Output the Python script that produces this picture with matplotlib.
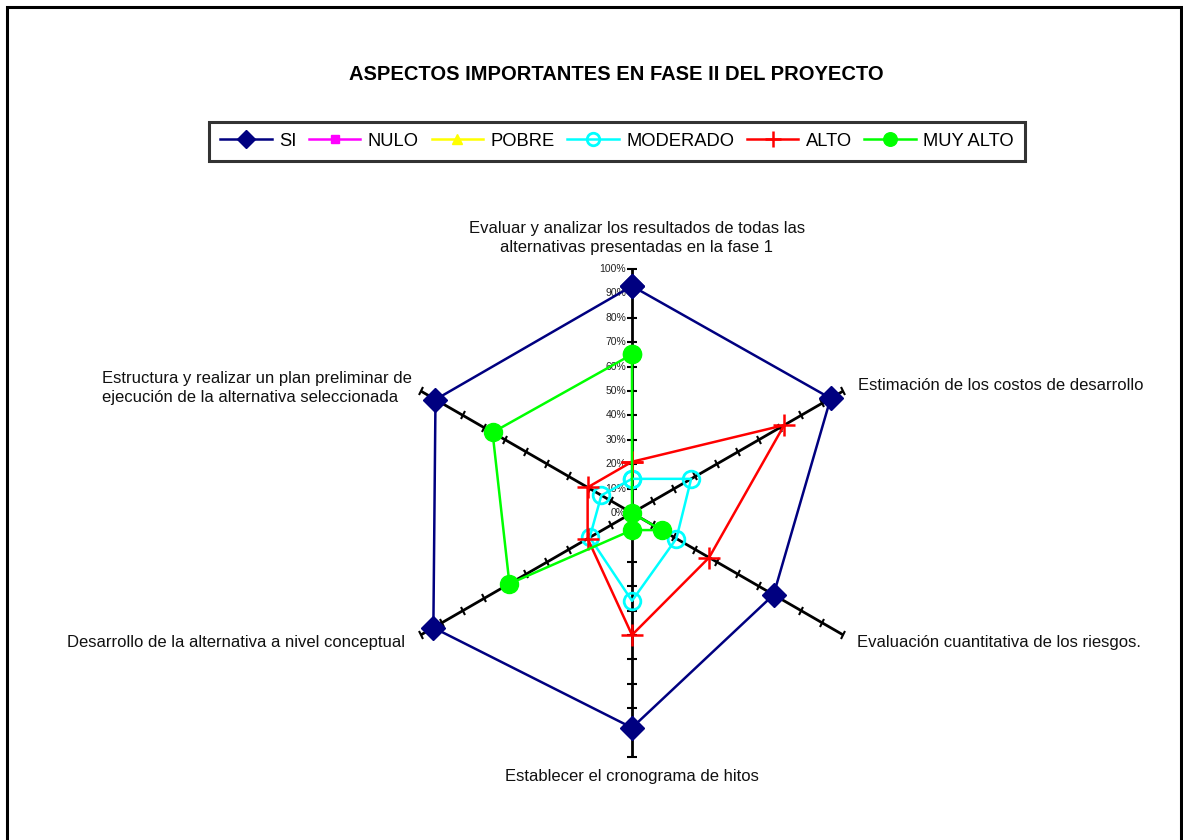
import numpy as np
import matplotlib.pyplot as plt
from matplotlib.markers import MarkerStyle
from matplotlib.transforms import Affine2D
from matplotlib.patches import Rectangle

plt.rcParams['font.family'] = ['Liberation Sans', 'DejaVu Sans']

categorias = [
    "Evaluar y analizar los resultados de todas las\nalternativas presentadas en la fase 1",
    "Estimación de los costos de desarrollo",
    "Evaluación cuantitativa de los riesgos.",
    "Establecer el cronograma de hitos",
    "Desarrollo de la alternativa a nivel conceptual",
    "Estructura y realizar un plan preliminar de\nejecución de la alternativa seleccionada",
]

si = [0.93, 0.94, 0.67, 0.88, 0.94, 0.93]
nulo = [0, 0, 0, 0, 0, 0]
pobre = [0, 0, 0, 0, 0, 0]
moderado = [0.14, 0.28, 0.21, 0.36, 0.20, 0.145]
alto = [0.21, 0.72, 0.365, 0.50, 0.21, 0.21]
muy_alto = [0.65, 0.0, 0.14, 0.07, 0.58, 0.66]

ticks = [0.1, 0.2, 0.3, 0.4, 0.5, 0.6, 0.7, 0.8, 0.9, 1.0]
tick_labels = ["0%", "10%", "20%", "30%", "40%", "50%", "60%", "70%", "80%", "90%", "100%"]

W, H = 1183, 840
fig = plt.figure(figsize=(W / 100, H / 100), dpi=100)
fig.patches.append(Rectangle((7 / W, -0.02), 1174 / W, 1 - 7 / H + 0.02,
                             transform=fig.transFigure, fill=False,
                             edgecolor='black', linewidth=2.2))

cx, cy, R = 632, 513, 244
ax = fig.add_axes([(cx - R) / W, (H - cy - R) / H, 2 * R / W, 2 * R / H],
                  projection='polar')
ax.set_theta_offset(np.pi / 2)
ax.set_theta_direction(-1)
ax.set_ylim(0, 1)
ax.grid(False)
ax.spines['polar'].set_visible(False)
ax.set_xticks([])
ax.set_yticks([])
ax.patch.set_alpha(0)

angulos = np.arange(6) * np.pi / 3

# ejes radiales con marcas perpendiculares
for i, th in enumerate(angulos):
    ax.plot([th, th], [0, 1], color='black', lw=2, zorder=1)
    rot = 90 - np.degrees(th)  # direction of the axis on screen
    m = MarkerStyle('|', transform=Affine2D().rotate_deg(rot))
    ax.plot([th] * len(ticks), ticks, ls='none', marker=m, ms=7,
            mew=1.5, color='black', zorder=1, clip_on=False)

# etiquetas de porcentaje en el eje superior, un poco a la izquierda
desplaza = ax.transData + Affine2D().translate(-6, 0)
for k, lab in enumerate(tick_labels):
    ax.text(0, k / 10, lab, transform=desplaza, fontsize=7.5,
            ha='right', va='center', color='#222222')

def cerrar(v):
    return np.r_[angulos, angulos[0]], np.r_[v, v[0]]

series = [
    ("SI", si, dict(color='#000080', marker='D', ms=12, mfc='#000080', mec='#000080')),
    ("NULO", nulo, dict(color='#FF00FF', marker='s', ms=8, mfc='#FF00FF', mec='#FF00FF')),
    ("POBRE", pobre, dict(color='#FFFF00', marker='^', ms=9, mfc='#FFFF00', mec='#FFFF00')),
    ("MODERADO", moderado, dict(color='#00FFFF', marker='o', ms=12, mfc='none', mec='#00FFFF', mew=2)),
    ("ALTO", alto, dict(color='#FF0000', marker='+', ms=16, mec='#FF0000', mew=1.8)),
    ("MUY ALTO", muy_alto, dict(color='#00FF00', marker='o', ms=13, mfc='#00FF00', mec='#00FF00')),
]

handles = []
for z, (nombre, vals, estilo) in enumerate(series):
    th, r = cerrar(vals)
    ln, = ax.plot(th, r, lw=1.8, label=nombre, zorder=3 + z, clip_on=False, **estilo)
    handles.append(ln)

# etiquetas de categorias
pos = [
    (637, 238, 'center'),
    (858, 386, 'left'),
    (857, 642, 'left'),
    (632, 777, 'center'),
    (405, 642, 'right'),
    (412, 388, 'right'),
]
for texto, (x, y, ha) in zip(categorias, pos):
    fig.text(x / W, 1 - y / H, texto, ha=ha, va='center', fontsize=12,
             multialignment='center' if ha == 'center' else 'left',
             color='#111111', linespacing=1.4)

fig.text(616 / W, 1 - 75 / H, "ASPECTOS IMPORTANTES EN FASE II DEL PROYECTO",
         ha='center', va='center', fontsize=14.5, fontweight='bold')

leg = fig.legend(handles=handles, loc='center', ncol=6,
                 bbox_to_anchor=(617 / W, 1 - 141 / H), fontsize=13.2,
                 frameon=True, fancybox=False, handlelength=2.8,
                 columnspacing=0.7, handletextpad=0.4, borderpad=0.6,
                 borderaxespad=0, markerscale=0.75)
leg.get_frame().set_edgecolor('black')
leg.get_frame().set_linewidth(2.2)

fig.savefig("out.png", dpi=100)
